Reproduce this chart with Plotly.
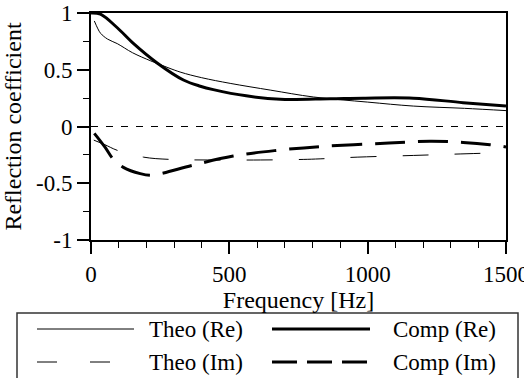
import plotly.graph_objects as go

# ---- data ----
theo_re_f = [12, 25, 35, 60, 95, 150, 214, 240, 322, 400, 503, 650, 804, 1000, 1165, 1350, 1500]
theo_re_y = [0.93, 0.86, 0.82, 0.77, 0.73, 0.65, 0.58, 0.555, 0.48, 0.43, 0.38, 0.32, 0.26, 0.215, 0.18, 0.16, 0.14]

comp_re_f = [0, 34, 95, 154, 239, 334, 395, 442, 561, 684, 864, 984, 1165, 1345, 1500]
comp_re_y = [1.0, 0.99, 0.87, 0.73, 0.56, 0.41, 0.355, 0.325, 0.27, 0.24, 0.245, 0.25, 0.25, 0.21, 0.18]

theo_im_f = [10, 50, 95, 190, 286, 420, 612, 767, 828, 962, 1165, 1359, 1500]
theo_im_y = [-0.12, -0.16, -0.21, -0.27, -0.29, -0.295, -0.295, -0.29, -0.285, -0.27, -0.255, -0.24, -0.23]

comp_im_f = [12, 50, 81, 117, 178, 220, 262, 370, 514, 673, 839, 1045, 1225, 1345, 1442, 1500]
comp_im_y = [-0.06, -0.18, -0.29, -0.36, -0.415, -0.43, -0.41, -0.34, -0.26, -0.21, -0.175, -0.15, -0.13, -0.14, -0.16, -0.18]

x_tickvals = [0, 500, 1000, 1500]
x_ticktext = ["0", "500", "1000", "1500"]
y_tickvals = [-1, -0.5, 0, 0.5, 1]
y_ticktext = ["-1", "-0.5", "0", "0.5", "1"]

names = ["Theo (Re)", "Comp (Re)", "Theo (Im)", "Comp (Im)"]

FONT = "Liberation Serif"

fig = go.Figure()
fig.add_trace(go.Scatter(x=theo_re_f, y=theo_re_y, mode="lines", name=names[0], line_shape="spline",
                         line=dict(color="black", width=1)))
fig.add_trace(go.Scatter(x=comp_re_f, y=comp_re_y, mode="lines", name=names[1], line_shape="spline",
                         line=dict(color="black", width=3)))
fig.add_trace(go.Scatter(x=theo_im_f, y=theo_im_y, mode="lines", name=names[2], line_shape="spline",
                         line=dict(color="black", width=1, dash="26px,26px")))
fig.add_trace(go.Scatter(x=comp_im_f, y=comp_im_y, mode="lines", name=names[3], line_shape="spline",
                         line=dict(color="black", width=3, dash="30px,13px")))

fig.add_hline(y=0, line=dict(color="black", width=1, dash="7px,8px"))

# plot-area geometry in pixels (for legend placement)
L, R, T, B = 91, 506, 13, 240
W, H = R - L, B - T


def px(x):
    return (x - L) / W


def py(y):
    return (B - y) / H


shapes = []
annotations = []
# legend box
shapes.append(dict(type="rect", xref="paper", yref="paper", x0=px(17), x1=px(518), y0=py(313), y1=py(385),
                   line=dict(color="#333", width=1.5), fillcolor="white", layer="above"))
legend_items = [
    (names[0], 37, 134, 147, 329, 1, "solid"),
    (names[1], 272, 370, 391, 329, 3, "solid"),
    (names[2], 37, 116, 147, 362, 1, "20px,33px"),
    (names[3], 272, 370, 391, 362, 3, "25px,10px"),
]
for name, x0, x1, tx, yy, w, d in legend_items:
    shapes.append(dict(type="line", xref="paper", yref="paper", x0=px(x0), x1=px(x1), y0=py(yy), y1=py(yy),
                       line=dict(color="black", width=w, dash=d), layer="above"))
    annotations.append(dict(xref="paper", yref="paper", x=px(tx), y=py(yy), text=name, showarrow=False,
                            xanchor="left", yanchor="middle", font=dict(family=FONT, size=23, color="black")))

fig.update_layout(
    width=524, height=378,
    margin=dict(l=L, r=524 - R, t=T, b=378 - B, autoexpand=False),
    paper_bgcolor="white", plot_bgcolor="white",
    showlegend=False,
    font=dict(family=FONT, size=23, color="black"),
    shapes=list(fig.layout.shapes) + shapes,
    annotations=annotations,
)
fig.update_xaxes(range=[0, 1500], tickvals=x_tickvals, ticktext=x_ticktext, automargin=False,
                 ticklabeloverflow="allow",
                 ticks="outside", ticklen=12, tickwidth=1.5, tickcolor="black",
                 minor=dict(dtick=100, ticks="outside", ticklen=6, tickwidth=1, tickcolor="black"),
                 showline=True, linecolor="black", linewidth=2, mirror=True,
                 showgrid=False, zeroline=False,
                 title=dict(text="Frequency [Hz]", standoff=0, font=dict(family=FONT, size=24)),
                 tickfont=dict(family=FONT, size=23))
fig.update_yaxes(range=[-1, 1], tickvals=y_tickvals, ticktext=y_ticktext, automargin=False,
                 ticks="outside", ticklen=12, tickwidth=1.5, tickcolor="black",
                 minor=dict(dtick=0.25, ticks="outside", ticklen=6, tickwidth=1, tickcolor="black"),
                 showline=True, linecolor="black", linewidth=2, mirror=True,
                 showgrid=False, zeroline=False,
                 title=dict(text="Reflection coefficient", standoff=10, font=dict(family=FONT, size=24)),
                 tickfont=dict(family=FONT, size=23))

fig.write_html("out.html", config={"displayModeBar": False},
               post_script="document.body.style.margin='0';document.body.style.padding='0';")
